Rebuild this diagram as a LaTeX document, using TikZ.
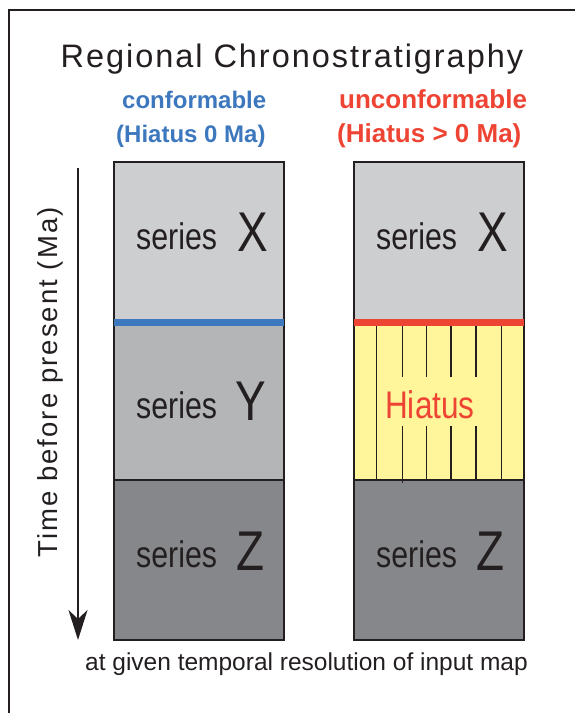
\documentclass[tikz,border=0pt]{standalone}
\usepackage{fontspec}
\setmainfont{Liberation Sans}
\newfontfamily\titlefont[LetterSpace=6]{Liberation Sans}
\newfontfamily\timefont[LetterSpace=7.5]{Liberation Sans}
\newfontfamily\narrowfont[FakeStretch=0.82]{Liberation Sans}
\usetikzlibrary{arrows.meta}

\definecolor{ink}{RGB}{35,31,32}
\definecolor{seriesX}{RGB}{205,206,208}
\definecolor{seriesY}{RGB}{180,181,183}
\definecolor{seriesZ}{RGB}{134,135,138}
\definecolor{hiatusfill}{RGB}{255,245,154}
\definecolor{confblue}{RGB}{61,120,190}
\definecolor{unconfred}{RGB}{238,68,51}

\tikzset{
  label/.style={inner sep=0pt, anchor=base west, text=ink},
  heading/.style={inner sep=0pt, anchor=base west, font=\bfseries\fontsize{24}{24}\selectfont},
  redheading/.style={heading, text=unconfred, font=\bfseries\fontsize{26}{26}\selectfont},
  serieslabel/.style={label, font=\narrowfont\fontsize{37}{37}\selectfont},
  seriesletter/.style={label, font=\narrowfont\fontsize{56}{56}\selectfont},
  columnframe/.style={draw=ink, line width=2.5pt},
  contact/.style={line width=7pt},
  hiatusline/.style={draw=ink, line width=1.4pt},
}

\begin{document}
\begin{tikzpicture}[x=1pt, y=-1pt]
  \path[use as bounding box] (0,0) rectangle (575,713);
  \clip (0,0) rectangle (575,713);

  % outer frame, running off the right and bottom edges
  \draw[ink, line width=2pt] (9,10) rectangle (600,740);

  % title and column headings
  \node[label, font=\titlefont\fontsize{32.5}{32.5}\selectfont] (title) at (60.5,67.3) {Regional Chronostratigraphy};
  \node[heading, text=confblue] (conf) at (122,108) {conformable};
  \node[heading, text=confblue] (confh) at (116,142) {(Hiatus 0 Ma)};
  \node[redheading] (unconf) at (339,108) {unconformable};
  \node[redheading] (unconfh) at (337,142) {(Hiatus > 0 Ma)};

  % left column: conformable succession
  \fill[seriesX] (114,162) rectangle (284,322);
  \fill[seriesY] (114,322) rectangle (284,480);
  \fill[seriesZ] (114,480) rectangle (284,640);
  \draw[ink, line width=2.5pt] (114,480) -- (284,480);
  \draw[columnframe] (114,162) rectangle (284,640);
  \draw[contact, confblue] (114,322) -- (284,322);

  % right column: unconformable succession with a hiatus
  \fill[seriesX] (354,162) rectangle (524,322);
  \fill[hiatusfill] (354,322) rectangle (524,480);
  \fill[seriesZ] (354,480) rectangle (524,640);
  \foreach \xx in {376.7,501.7} \draw[hiatusline] (\xx,322) -- (\xx,480);
  \foreach \xx in {426.7,451,476} {
    \draw[hiatusline] (\xx,322) -- (\xx,377);
    \draw[hiatusline] (\xx,426) -- (\xx,480);
  }
  \draw[hiatusline] (402.7,322) -- (402.7,377);
  \draw[hiatusline] (402.7,426) -- (402.7,483);
  \draw[ink, line width=2.5pt] (354,480) -- (524,480);
  \draw[columnframe] (354,162) rectangle (524,640);
  \draw[contact, unconfred] (354,322) -- (524,322);

  % series labels
  \node[serieslabel] (sXl) at (136,249.3) {series};
  \node[seriesletter] (lXl) at (237,251.7) {X};
  \node[serieslabel] (sYl) at (136,418.3) {series};
  \node[seriesletter] (lYl) at (235,420.7) {Y};
  \node[serieslabel] (sZl) at (136,567) {series};
  \node[seriesletter] (lZl) at (236,570) {Z};

  \node[serieslabel] (sXr) at (376,249.3) {series};
  \node[seriesletter] (lXr) at (477,251.7) {X};
  \node[label, text=unconfred, font=\narrowfont\fontsize{38.5}{38.5}\selectfont] (hiatus) at (385,418.3) {Hiatus};
  \node[serieslabel] (sZr) at (376,567) {series};
  \node[seriesletter] (lZr) at (476,570) {Z};

  % time axis
  \coordinate (tstart) at (78,168);
  \coordinate (tend) at (78,640);
  \draw[ink, line width=2pt, -{Stealth[length=30pt, width=19pt, inset=9pt]}] (tstart) -- (tend);
  \node[label, rotate=90, font=\timefont\fontsize{27.5}{27.5}\selectfont] (timelabel) at (57.5,558) {Time before present (Ma)};

  % footnote
  \node[label, font=\fontsize{24.5}{24.5}\selectfont] (note) at (85,670) {at given temporal resolution of input map};
\end{tikzpicture}
\end{document}
